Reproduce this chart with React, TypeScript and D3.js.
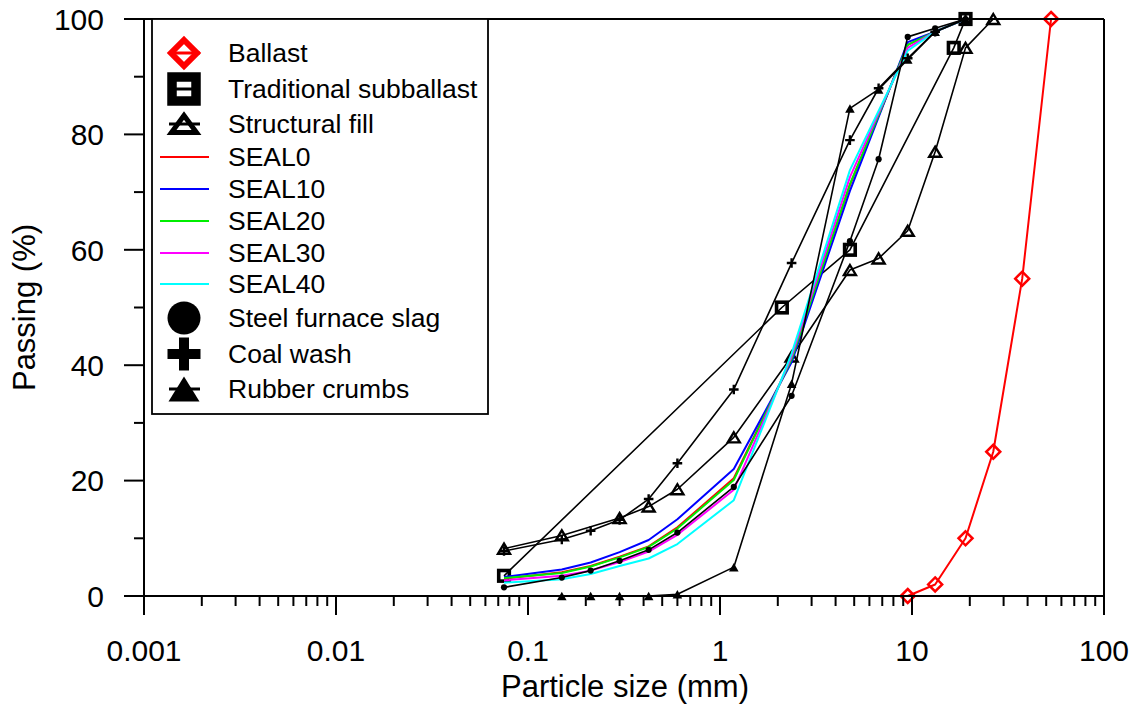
import React from 'react';
import * as d3 from 'd3';

// ---- Data ----
const ballastSize = [9.5, 13.2, 19, 26.5, 37.5, 53];
const ballastPassing = [0, 2, 10, 25, 55, 100];

const subballastSize = [0.075, 2.1, 4.75, 16.5, 19];
const subballastPassing = [3.5, 50, 60, 95, 100];

const fillSize = [0.075, 0.15, 0.3, 0.425, 0.6, 1.18, 2.36, 4.75, 6.7, 9.5, 13.2, 19, 26.5];
const fillPassing = [8.2, 10.5, 13.5, 15.5, 18.5, 27.5, 41.5, 56.5, 58.5, 63.3, 77, 95, 100];

const sealSize = [0.075, 0.15, 0.212, 0.3, 0.425, 0.6, 1.18, 2.36, 4.75, 9.5, 13.2, 19];
const seal0Passing = [3.0, 4.1, 5.2, 6.8, 8.6, 11.9, 20.4, 41.0, 71.2, 95.5, 97.8, 100];
const seal10Passing = [3.3, 4.6, 5.8, 7.6, 9.7, 13.3, 22.0, 40.5, 70.2, 96.0, 97.8, 100];
const seal20Passing = [3.1, 4.0, 5.1, 6.7, 8.5, 11.7, 20.1, 41.0, 71.4, 95.5, 97.8, 100];
const seal30Passing = [2.7, 3.5, 4.4, 5.9, 7.7, 10.6, 18.4, 41.5, 72.6, 95.0, 97.8, 100];
const seal40Passing = [2.3, 2.9, 3.8, 5.2, 6.5, 9.0, 16.6, 42.0, 73.8, 94.5, 97.8, 100];

const slagSize = [0.075, 0.15, 0.212, 0.3, 0.425, 0.6, 1.18, 2.36, 4.75, 6.7, 9.5, 13.2, 19];
const slagPassing = [1.5, 3.2, 4.4, 6.1, 8.0, 11.0, 18.9, 34.7, 61.5, 75.7, 96.9, 98.4, 100];

const coalSize = [0.075, 0.15, 0.212, 0.3, 0.425, 0.6, 1.18, 2.36, 4.75, 6.7, 9.5, 13.2, 19];
const coalPassing = [7.8, 9.8, 11.3, 13.2, 16.8, 23.0, 35.8, 57.7, 79.0, 88.0, 93.2, 97.8, 100];

const rubberSize = [0.15, 0.212, 0.3, 0.425, 0.6, 1.18, 2.36, 4.75, 6.7, 9.5, 13.2, 19];
const rubberPassing = [0, 0, 0, 0, 0.3, 5.0, 36.8, 84.5, 87.8, 93.0, 97.8, 100];

const xTickValues = [0.001, 0.01, 0.1, 1, 10, 100];
const xTickLabels = ['0.001', '0.01', '0.1', '1', '10', '100'];
const yTickValues = [0, 20, 40, 60, 80, 100];
const yMinorValues = [10, 30, 50, 70, 90];

type Marker = 'diamond' | 'square' | 'triangle' | 'none' | 'circle' | 'plus' | 'triFilled';
interface Series { name: string; sizes: number[]; values: number[]; color: string; marker: Marker; lw: number; }

const series: Series[] = [
  { name: 'Ballast', sizes: ballastSize, values: ballastPassing, color: '#ff0000', marker: 'diamond', lw: 2 },
  { name: 'Traditional subballast', sizes: subballastSize, values: subballastPassing, color: '#000', marker: 'square', lw: 1.6 },
  { name: 'Structural fill', sizes: fillSize, values: fillPassing, color: '#000', marker: 'triangle', lw: 1.6 },
  { name: 'SEAL0', sizes: sealSize, values: seal0Passing, color: '#ff0000', marker: 'none', lw: 2 },
  { name: 'SEAL10', sizes: sealSize, values: seal10Passing, color: '#0000ff', marker: 'none', lw: 2 },
  { name: 'SEAL20', sizes: sealSize, values: seal20Passing, color: '#00ee00', marker: 'none', lw: 2 },
  { name: 'SEAL30', sizes: sealSize, values: seal30Passing, color: '#ff00ff', marker: 'none', lw: 2 },
  { name: 'SEAL40', sizes: sealSize, values: seal40Passing, color: '#00ffff', marker: 'none', lw: 2 },
  { name: 'Steel furnace slag', sizes: slagSize, values: slagPassing, color: '#000', marker: 'circle', lw: 1.6 },
  { name: 'Coal wash', sizes: coalSize, values: coalPassing, color: '#000', marker: 'plus', lw: 1.6 },
  { name: 'Rubber crumbs', sizes: rubberSize, values: rubberPassing, color: '#000', marker: 'triFilled', lw: 1.6 },
];

const W = 1137, H = 712;
const L = 144, R = 1104, T = 19, B = 596;
const FONT = 'Liberation Sans, Arial, sans-serif';

const x = d3.scaleLog().domain([0.001, 100]).range([L, R]);
const y = d3.scaleLinear().domain([0, 100]).range([B, T]);

function marker(type: Marker, cx: number, cy: number, color: string, big: boolean, key: string) {
  switch (type) {
    case 'diamond': {
      const r = big ? 13 : 7;
      const sw = big ? 6 : 2.5;
      return <path key={key} d={`M${cx},${cy - r}L${cx + r},${cy}L${cx},${cy + r}L${cx - r},${cy}Z`} fill="none" stroke={color} strokeWidth={sw} />;
    }
    case 'square': {
      const h = big ? 12 : 5.3;
      const sw = big ? 9.5 : 3.6;
      return <rect key={key} x={cx - h} y={cy - h} width={2 * h} height={2 * h} fill="none" stroke={color} strokeWidth={sw} />;
    }
    case 'triangle': {
      const w = big ? 12.5 : 6;
      const h = big ? 17 : 10;
      const sw = big ? 5 : 2.4;
      return <path key={key} d={`M${cx},${cy - h / 2}L${cx + w},${cy + h / 2}L${cx - w},${cy + h / 2}Z`} fill="none" stroke={color} strokeWidth={sw} strokeLinejoin="miter" />;
    }
    case 'circle': {
      const r = big ? 16.5 : 3.1;
      return <circle key={key} cx={cx} cy={cy} r={r} fill={color} />;
    }
    case 'plus': {
      const a = big ? 16.5 : 4.8;
      const sw = big ? 10 : 2.4;
      return <path key={key} d={`M${cx - a},${cy}H${cx + a}M${cx},${cy - a}V${cy + a}`} stroke={color} strokeWidth={sw} fill="none" />;
    }
    case 'triFilled': {
      const w = big ? 15.5 : 4.8;
      const h = big ? 25 : 8.5;
      return <path key={key} d={`M${cx},${cy - h / 2}L${cx + w},${cy + h / 2}L${cx - w},${cy + h / 2}Z`} fill={color} />;
    }
    default:
      return null;
  }
}

export default function App() {
  const line = d3.line<[number, number]>().x(d => x(d[0])).y(d => y(d[1]));

  const xMinor: number[] = [];
  for (let e = -3; e < 2; e++) {
    for (let m = 2; m <= 9; m++) xMinor.push(m * Math.pow(10, e));
  }

  const legendRows = [53, 89, 124, 157, 189, 221, 253, 284, 318, 354, 389];

  return (
    <svg width={W} height={H} style={{ position: 'absolute', left: 0, top: 0, background: '#fff' }} fontFamily={FONT}>
      <rect x={0} y={0} width={W} height={H} fill="#fff" />

      {/* series */}
      {series.map((s, i) => {
        const pts: [number, number][] = s.sizes.map((v, j) => [v, s.values[j]]);
        return (
          <g key={i}>
            <path d={line(pts) || ''} fill="none" stroke={s.color} strokeWidth={s.lw} strokeLinejoin="round" />
            {s.marker !== 'none' && pts.map((p, j) => marker(s.marker, x(p[0]), y(p[1]), s.color, false, `m${i}-${j}`))}
          </g>
        );
      })}

      {/* frame */}
      <line x1={L} y1={T} x2={L} y2={B} stroke="#000" strokeWidth={2} />
      <line x1={L - 20} y1={B} x2={R} y2={B} stroke="#000" strokeWidth={2} />
      <line x1={L - 20} y1={T} x2={R} y2={T} stroke="#000" strokeWidth={2} />
      <line x1={R} y1={T} x2={R} y2={B + 19} stroke="#000" strokeWidth={2} />

      {/* y ticks */}
      {yTickValues.map(v => (
        <g key={`yt${v}`}>
          <line x1={L - 20} x2={L} y1={y(v)} y2={y(v)} stroke="#000" strokeWidth={2} />
          <text x={104} y={y(v)} dy="0.36em" textAnchor="end" fontSize={30}>{v}</text>
        </g>
      ))}
      {yMinorValues.map(v => (
        <line key={`ym${v}`} x1={L - 10} x2={L} y1={y(v)} y2={y(v)} stroke="#000" strokeWidth={2} />
      ))}

      {/* x ticks */}
      {xTickValues.map((v, i) => (
        <g key={`xt${v}`}>
          <line x1={x(v)} x2={x(v)} y1={B} y2={B + 19} stroke="#000" strokeWidth={2} />
          <text x={x(v)} y={661} textAnchor="middle" fontSize={30}>{xTickLabels[i]}</text>
        </g>
      ))}
      {xMinor.map((v, i) => (
        <line key={`xm${i}`} x1={x(v)} x2={x(v)} y1={B} y2={B + 10} stroke="#000" strokeWidth={2} />
      ))}

      {/* axis titles */}
      <text x={625} y={697} textAnchor="middle" fontSize={31}>Particle size (mm)</text>
      <text transform={`translate(35,${(T + B) / 2}) rotate(-90)`} textAnchor="middle" fontSize={31}>Passing (%)</text>

      {/* legend */}
      <rect x={152} y={T} width={336} height={395} fill="#fff" stroke="#000" strokeWidth={1.8} />
      {series.map((s, i) => {
        const cy = legendRows[i];
        const isLine = s.marker === 'none';
        return (
          <g key={`lg${i}`}>
            {isLine ? (
              <line x1={160} x2={209} y1={cy} y2={cy} stroke={s.color} strokeWidth={2} />
            ) : (
              <line x1={169} x2={200} y1={cy} y2={cy} stroke={s.color} strokeWidth={3} />
            )}
            {!isLine && marker(s.marker, 184, cy, s.color, true, `lm${i}`)}
            <text x={228} y={cy} dy="0.35em" fontSize={26.5}>{s.name}</text>
          </g>
        );
      })}
    </svg>
  );
}
